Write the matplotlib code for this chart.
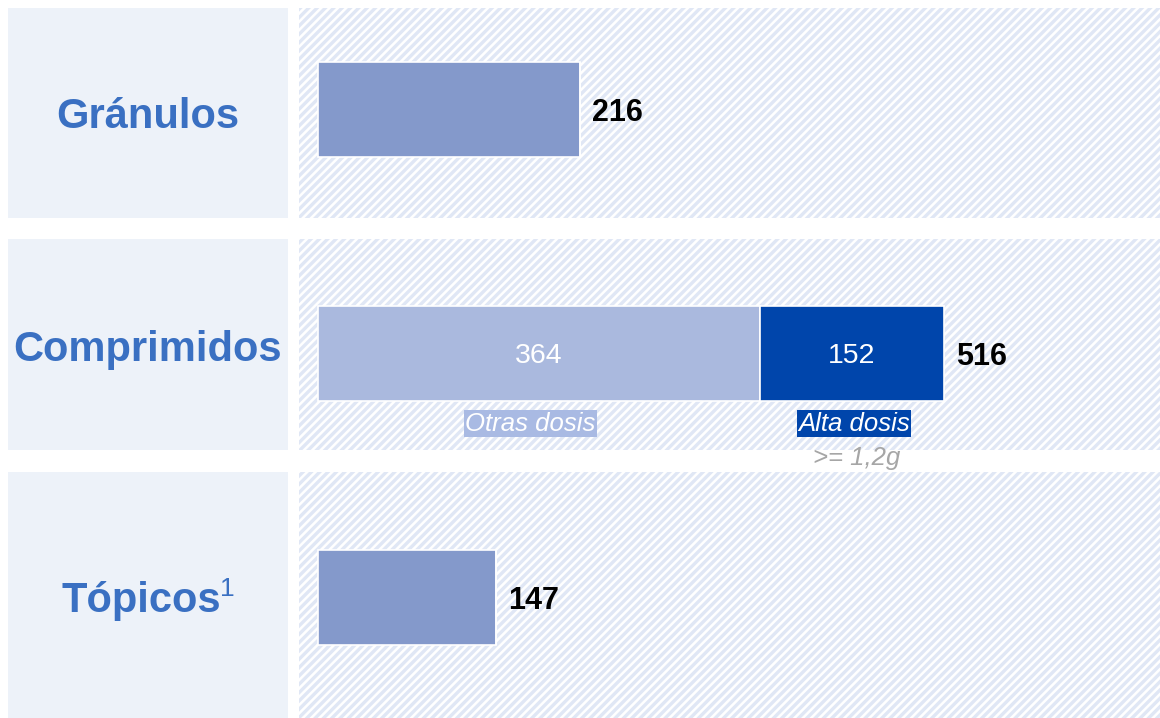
import matplotlib
matplotlib.use("Agg")
import matplotlib.pyplot as plt
from matplotlib.patches import Rectangle

# data
categories = ['Gránulos', 'Comprimidos', 'Tópicos']
superscripts = ['', '', '1']
otras_dosis = [216, 364, 147]
alta_dosis = [0, 152, 0]
totals = [216, 516, 147]

plt.rcParams['font.family'] = ['Liberation Sans', 'DejaVu Sans']
plt.rcParams['hatch.linewidth'] = 2.4
plt.rcParams['hatch.color'] = '#e0e7f5'

W, H = 1160, 718
fig = plt.figure(figsize=(W / 100, H / 100), dpi=100)
fig.patch.set_facecolor('white')

label_blue = '#3a70c2'
# row bands in pixels (top, bottom)
rows = [(8, 218), (239, 450), (472, 718)]

for top, bottom in rows:
    y0 = 1 - bottom / H
    h = (bottom - top) / H
    fig.patches.append(Rectangle((8 / W, y0), 280 / W, h, transform=fig.transFigure,
                                 facecolor='#edf2f9', edgecolor='none', zorder=0))
    fig.patches.append(Rectangle((299 / W, y0), (W - 299) / W, h, transform=fig.transFigure,
                                 facecolor='white', edgecolor='#e0e7f5', hatch='////',
                                 linewidth=0, zorder=0))

# left labels
label_y = [117, 350, 601]
for cat, sup, ly in zip(categories, superscripts, label_y):
    if sup:
        fig.text(148 / W - 0.006, 1 - ly / H, cat, ha='center', va='center',
                 fontsize=30, fontweight='bold', color=label_blue)
        fig.text(148 / W + 0.062, 1 - (ly - 12) / H, sup, ha='left', va='center',
                 fontsize=19, color=label_blue)
    else:
        fig.text(148 / W, 1 - ly / H, cat, ha='center', va='center',
                 fontsize=30, fontweight='bold', color=label_blue)

# bar axes
ax = fig.add_axes([299 / W, 0, (W - 299) / W, (718 - 8) / H])
ax.set_zorder(2)
ax.patch.set_alpha(0)
ax.set_xlim(-15.7, 694)
ax.set_ylim(2.494, -0.416)
ax.axis('off')

ypos = range(len(categories))
bar_h = 0.39
single_color = '#8499cb'
base_colors = [single_color if a == 0 else '#aab9de' for a in alta_dosis]
ax.barh(ypos, otras_dosis, height=bar_h, color=base_colors, edgecolor='white', linewidth=1.2)
ax.barh(ypos, alta_dosis, left=otras_dosis, height=bar_h, color='#0045ab',
        edgecolor='white', linewidth=1.2)

for i, (o, a, t) in enumerate(zip(otras_dosis, alta_dosis, totals)):
    ax.text(t + 10, i, str(t), ha='left', va='center_baseline', fontsize=22,
            fontweight='bold', color='black')
    if a > 0:
        ax.text(o / 2, i, str(o), ha='center', va='center_baseline', fontsize=20.5, color='white')
        ax.text(o + a / 2, i, str(a), ha='center', va='center_baseline', fontsize=20.5, color='white')
        ax.text(o / 2 - 7, i + 0.287, 'Otras dosis', ha='center', va='center', fontsize=18.5,
                style='italic', color='white',
                bbox=dict(boxstyle='square,pad=0.05', facecolor='#a9bae3', edgecolor='none'))
        ax.text(o + a / 2 + 2, i + 0.287, 'Alta dosis', ha='center', va='center', fontsize=18.5,
                style='italic', color='white',
                bbox=dict(boxstyle='square,pad=0.05', facecolor='#0045ab', edgecolor='none'))
        ax.text(o + a / 2 + 4, i + 0.43, '>= 1,2g', ha='center', va='center', fontsize=18.5,
                style='italic', color='#a6a6a6')

fig.savefig('out.png', dpi=100)
